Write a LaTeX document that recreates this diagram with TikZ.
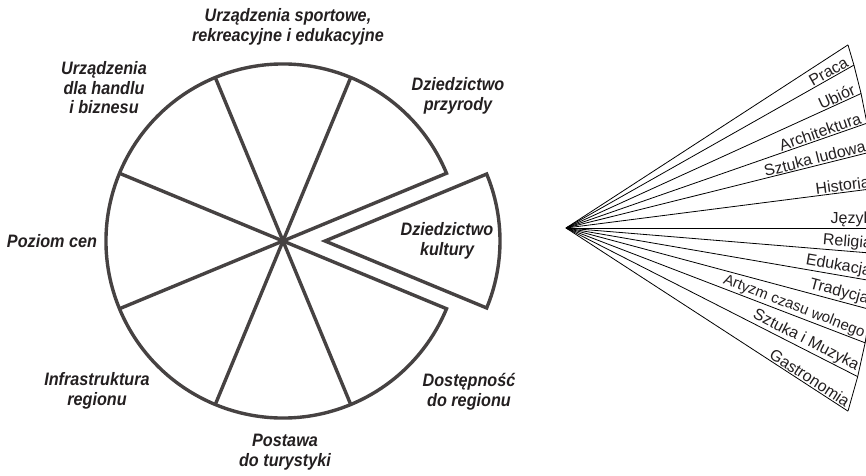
\documentclass[tikz,border=0pt]{standalone}
\usepackage{fontspec}
\setmainfont{Liberation Sans}
\newfontfamily\piefont{Liberation Sans}[FakeStretch=0.9]
\newfontfamily\fanfont{Liberation Sans}
\usetikzlibrary{calc}
\definecolor{pieline}{RGB}{70,66,66}
\definecolor{ink}{RGB}{35,31,32}
\begin{document}
\begin{tikzpicture}[x=1pt,y=1pt,
  pieedge/.style={draw=pieline, line width=3.4pt, line join=miter},
  plab/.style={align=center, text=ink, inner sep=0pt,
    font=\piefont\bfseries\itshape\fontsize{18}{19.5}\selectfont},
  fanray/.style={draw=black, line width=0.8pt},
  flab/.style={text=ink, inner sep=1.2pt, font=\fanfont},
]
\useasboundingbox (0,0) rectangle (866,475);
\clip (0,0) rectangle (866,475);

% centres: pie, shifted slice, fan apex
\coordinate (O) at (283,234);
\coordinate (E) at (325,234);
\coordinate (F) at (566,247);

% pie with eight slices, the right one pulled out
\draw[pieedge] (O) -- ++(22.5:177pt) arc[start angle=22.5, end angle=337.5, radius=177pt] -- cycle;
\foreach \a in {67.5,112.5,157.5,202.5,247.5,292.5}
  \draw[pieedge] (O) -- ++(\a:177pt);
\draw[pieedge] (E) -- ++(-22.5:175pt) arc[start angle=-22.5, end angle=22.5, radius=175pt] -- cycle;

% slice labels
\node[plab] (sport) at (288,448) {Urządzenia sportowe,\\rekreacyjne i edukacyjne};
\node[plab] (handel) at (104,387) {Urządzenia\\dla handlu\\i biznesu};
\node[plab] (przyroda) at (458,379) {Dziedzictwo\\przyrody};
\node[plab] (kultura) at (447,234) {Dziedzictwo\\kultury};
\node[plab] (dostep) at (469,83) {Dostępność\\do regionu};
\node[plab] (postawa) at (285,23) {Postawa\\do turystyki};
\node[plab] (infra) at (97,84) {Infrastruktura\\regionu};
\node[plab] (ceny) at (52,234) {Poziom cen};

% fan of rays ending on a wide arc
\foreach \a [count=\i from 0] in {33,29.5,24.5,19.2,14,7.3,0,-4.7,-9.8,-15,-21,-27,-33} {
  \pgfmathsetmacro{\cs}{cos(\a)}
  \pgfmathsetmacro{\rl}{10*(-30.2*\cs+sqrt(912.04*\cs*\cs+2833.4))}
  \coordinate (r\i) at ($(F)+(\a:\rl pt)$);
  \draw[fanray] (F) -- (r\i);
}
\draw[fanray] (r0) \foreach \i in {1,...,12} { -- (r\i) };

% strip labels, resting on the lower ray of each strip
\foreach \lab/\ang/\fs [count=\i] in {Praca/29.5/16, Ubiór/24.5/16, Architektura/19.2/16,
    Sztuka ludowa/14/16, Historia/7.3/16, Język/0/16, Religia/-4.7/16, Edukacja/-9.8/16,
    Tradycja/-15/16, Artyzm czasu wolnego/-21/15, Sztuka i Muzyka/-27/16, Gastronomia/-33/16}
  \node[flab, rotate=\ang, anchor=south east] (lab\i) at ($(r\i)!3pt!(F)$)
    {\fontsize{\fs}{\fs}\selectfont \lab};
\end{tikzpicture}
\end{document}
